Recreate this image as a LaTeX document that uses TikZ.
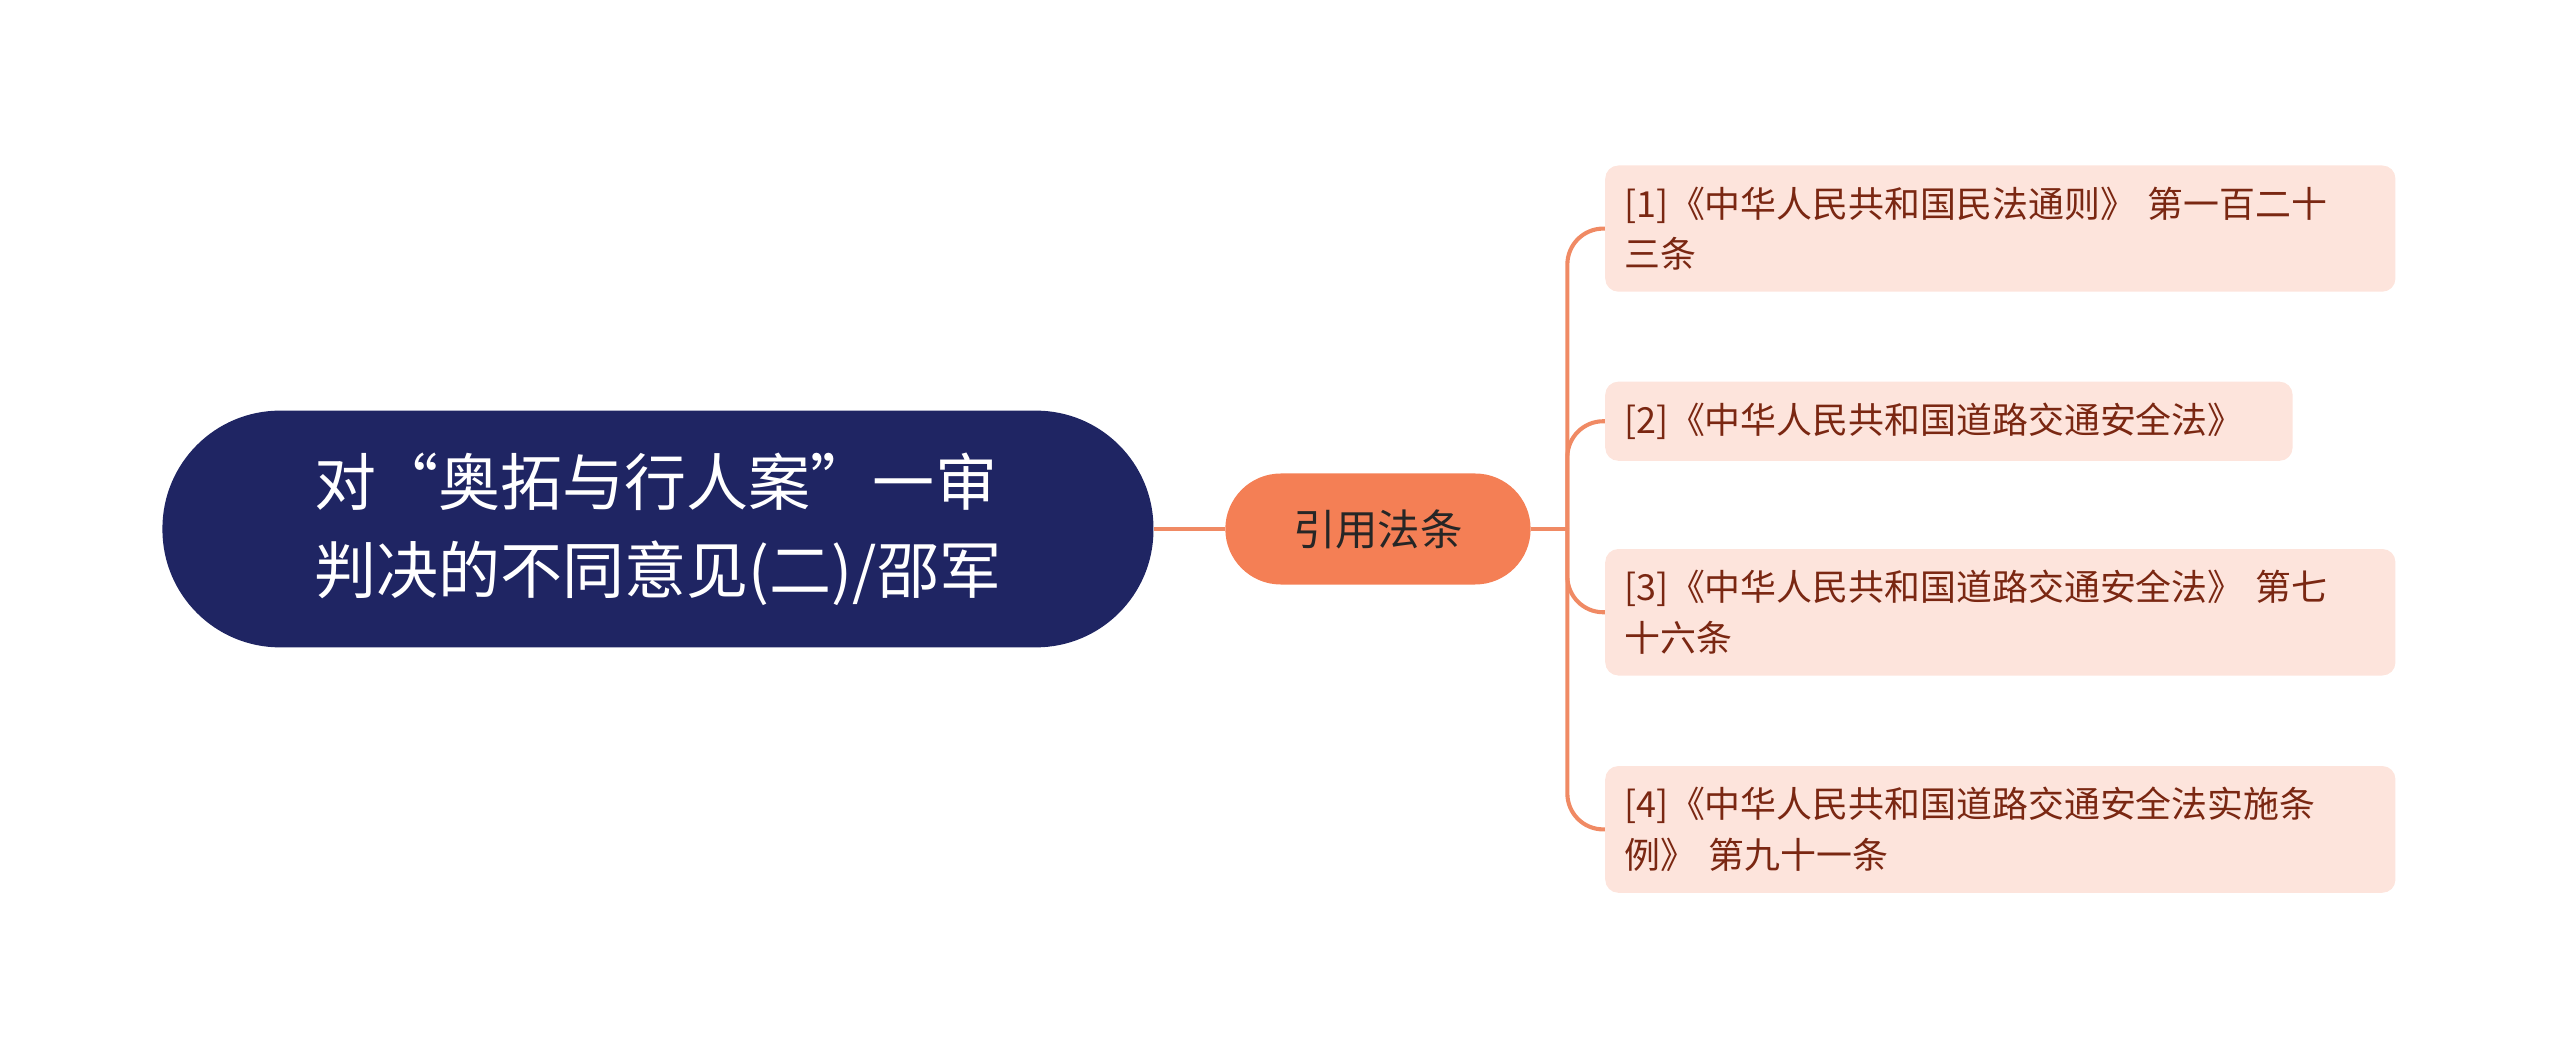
\documentclass[tikz,border=0pt]{standalone}
\usepackage{fontspec}
\setmainfont{Noto Sans CJK SC}
\definecolor{navy}{HTML}{1F2563}
\definecolor{mango}{HTML}{F47F55}
\definecolor{peach}{HTML}{FDE4DC}
\definecolor{brick}{HTML}{7A2712}
\definecolor{wire}{HTML}{F08A64}
\tikzset{
  rootbox/.style={fill=navy, text=white, rounded corners=72pt, minimum width=607pt, minimum height=145pt, align=left, font=\fontsize{38}{54}\selectfont},
  midbox/.style={fill=mango, text=black!85, rounded corners=34pt, minimum width=187pt, minimum height=68pt, font=\fontsize{26}{30}\selectfont},
  leafbox/.style={fill=peach, text=brick, rounded corners=8pt, anchor=west, align=left, inner xsep=12pt, inner ysep=13pt, font=\fontsize{22}{31}\selectfont},
  link/.style={wire, line width=2.5pt, rounded corners=22pt}
}
\begin{document}
\begin{tikzpicture}[x=1pt,y=-1pt]
\useasboundingbox (0,0) rectangle (1568,649);

\node[rootbox] (root) at (403,324) {对“奥拓与行人案”一审\\判决的不同意见(二)/邵军};
\node[midbox] (mid) at (844,324) {引用法条};

\node[leafbox, text width=460pt] (law1) at (983,140) {[1]《中华人民共和国民法通则》 第一百二十\\三条};
\node[leafbox, text width=397pt] (law2) at (983,258) {[2]《中华人民共和国道路交通安全法》};
\node[leafbox, text width=460pt] (law3) at (983,375) {[3]《中华人民共和国道路交通安全法》 第七\\十六条};
\node[leafbox, text width=460pt] (law4) at (983,508) {[4]《中华人民共和国道路交通安全法实施条\\例》 第九十一条};

\coordinate (fork) at (960,324);
\draw[link] (root.east) -- (mid.west);
\draw[link] (mid.east) -- (fork);
\foreach \leaf in {law1,law2,law3,law4}
  \draw[link] (fork) |- (\leaf.west);

\end{tikzpicture}
\end{document}
